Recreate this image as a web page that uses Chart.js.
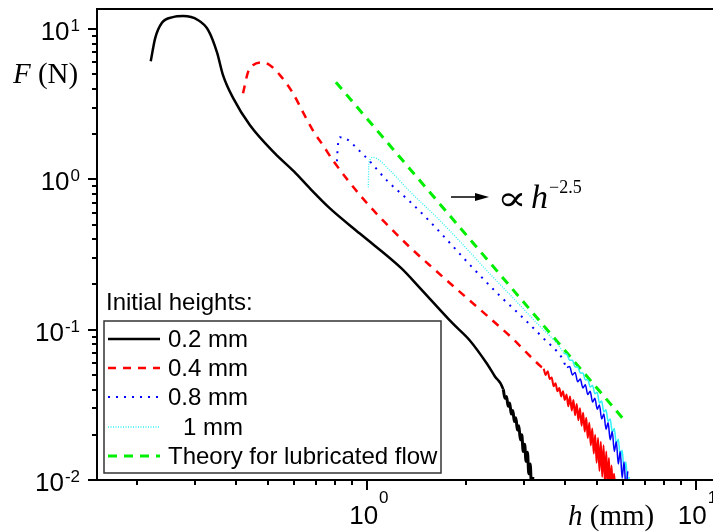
<!DOCTYPE html>
<html>
<head>
<meta charset="utf-8">
<script src="https://cdn.jsdelivr.net/npm/chart.js@4"></script>
<style>
  html, body { margin: 0; padding: 0; background: #fff; }
</style>
</head>
<body>
<canvas id="myChart" width="713" height="532"></canvas>
<script>
// Initial height 0.2 mm (h in mm, F in N); the tail is the noisy band near 10^-2
const h02 = [0.220, 0.227, 0.238, 0.257, 0.276, 0.306, 0.329, 0.350, 0.365, 0.392, 0.441, 0.525, 0.600, 0.671, 0.772, 0.952, 1.277, 1.449, 1.825, 2.06, 2.32, 2.45,
  2.60, 2.63, 2.66, 2.69, 2.72, 2.75, 2.78, 2.81, 2.84, 2.87, 2.90, 2.93, 2.96, 2.99, 3.02, 3.05, 3.08, 3.11, 3.14, 3.17, 3.20];
const f02 = [6.1, 8.7, 11.0, 12.0, 12.2, 11.5, 9.85, 7.0, 4.94, 3.47, 2.29, 1.49, 1.13, 0.871, 0.641, 0.436, 0.255, 0.19, 0.11, 0.0845, 0.0593, 0.049,
  0.040, 0.035, 0.036, 0.031, 0.0325, 0.0275, 0.029, 0.0245, 0.026, 0.0215, 0.023, 0.0185, 0.020, 0.0155, 0.0173, 0.0133, 0.0153, 0.011, 0.0128, 0.0088, 0.0105];

// Initial height 0.4 mm
const h04 = [0.420, 0.435, 0.450, 0.483, 0.507, 0.544, 0.596, 0.639, 0.685, 0.735, 0.788, 0.972, 1.135, 1.370, 1.609, 1.877, 2.316, 2.779, 3.129, 3.38,
  3.45, 3.50, 3.55, 3.60, 3.65, 3.70, 3.75, 3.80, 3.85, 3.90, 3.95, 4.00, 4.05, 4.10, 4.15, 4.20, 4.25, 4.30, 4.35, 4.40, 4.45, 4.50, 4.55, 4.60, 4.65, 4.70, 4.75, 4.80, 4.85, 4.90, 4.95, 5.00, 5.05, 5.10, 5.15, 5.20, 5.25, 5.30, 5.35, 5.40, 5.45, 5.50, 5.55, 5.60, 5.65, 5.70];
const f04 = [3.74, 5.17, 5.75, 6.0, 5.75, 4.94, 3.74, 2.8, 2.12, 1.69, 1.34, 0.747, 0.517, 0.344, 0.2505, 0.186, 0.1245, 0.0871, 0.0671, 0.057,
  0.055, 0.050, 0.053, 0.047, 0.048, 0.042, 0.044, 0.039, 0.041, 0.036, 0.039, 0.034, 0.037, 0.031, 0.036, 0.029, 0.034, 0.027, 0.032, 0.025, 0.030, 0.023, 0.028, 0.021, 0.026, 0.019, 0.024, 0.017, 0.022, 0.015, 0.020, 0.013, 0.019, 0.0115, 0.018, 0.0105, 0.017, 0.0095, 0.0155, 0.0090, 0.014, 0.0085, 0.0125, 0.0088, 0.0110, 0.0085];

// Initial height 0.8 mm
const h08 = [0.811, 0.815, 0.828, 0.869, 0.920, 0.972, 1.014, 1.158, 1.351, 1.554, 1.750, 2.055, 2.535, 2.917, 3.430, 3.940,
  4.06, 4.14, 4.22, 4.30, 4.38, 4.46, 4.54, 4.62, 4.70, 4.78, 4.86, 4.94, 5.02, 5.10, 5.18, 5.26, 5.34, 5.42, 5.50, 5.58, 5.66, 5.74, 5.82, 5.90, 5.98, 6.06, 6.14, 6.22];
const f08 = [1.32, 1.61, 1.905, 1.85, 1.66, 1.47, 1.34, 0.970, 0.713, 0.525, 0.398, 0.271, 0.1685, 0.126, 0.0885, 0.064,
  0.056, 0.057, 0.050, 0.052, 0.045, 0.047, 0.041, 0.043, 0.037, 0.039, 0.033, 0.035, 0.0296, 0.0315, 0.0255, 0.0275, 0.0218, 0.024, 0.0185, 0.021, 0.0155, 0.018, 0.0128, 0.0155, 0.0103, 0.0132, 0.0088, 0.0114];

// Initial height 1 mm
const h1 = [1.010, 1.014, 1.043, 1.175, 1.323, 1.667, 1.958, 2.316, 2.779, 3.280, 3.858,
  3.98, 4.06, 4.14, 4.22, 4.30, 4.38, 4.46, 4.54, 4.62, 4.70, 4.78, 4.86, 4.94, 5.02, 5.10, 5.18, 5.26, 5.34, 5.42, 5.50, 5.58, 5.66, 5.74, 5.82, 5.90, 5.98, 6.06, 6.14, 6.22, 6.28];
const f1 = [0.885, 1.28, 1.40, 1.148, 0.871, 0.533, 0.3687, 0.2474, 0.1634, 0.1113, 0.077,
  0.0695, 0.0685, 0.0625, 0.0625, 0.0565, 0.0565, 0.0515, 0.0515, 0.0465, 0.0465, 0.0415, 0.0425, 0.0375, 0.0383, 0.0325, 0.0335, 0.0283, 0.0293, 0.0245, 0.0255, 0.0207, 0.022, 0.0173, 0.0187, 0.0143, 0.0158, 0.0115, 0.0132, 0.009, 0.0105];

// Theory for lubricated flow (end points of the h^-2.5 line)
const hTheory = [0.805, 6.17];
const fTheory = [4.43, 0.024];

const seriesLabels = ["0.2 mm", "0.4 mm", "0.8 mm", "1 mm", "Theory for lubricated flow"];
const legendTitle = "Initial heights:";

// axis ticks (labels are 10^exp)
const xMajor = [1, 10];
const xMajorExp = ["0", "1"];
const yMajor = [0.01, 0.1, 1, 10];
const yMajorExp = ["-2", "-1", "0", "1"];

const SANS = '"Liberation Sans", Arial, sans-serif';
const SERIF = '"Liberation Serif", "Times New Roman", "DejaVu Serif", serif';

const pairs = (hs, fs) => hs.map((h, i) => ({ x: h, y: fs[i] }));

// noisy tails are drawn solid
const tailStyle = (fromH, width) => ({
  borderDash: (c) => (c.p0.parsed.x >= fromH ? [] : undefined),
  borderWidth: (c) => (c.p0.parsed.x >= fromH ? width : undefined),
});

// draw "10" with a raised exponent
function drawPower(ctx, x, baseY, expY, exp, align) {
  ctx.font = "26px " + SANS;
  const wb = ctx.measureText("10").width;
  ctx.font = "17px " + SANS;
  const we = ctx.measureText(exp).width;
  const x0 = align === "right" ? x - wb - we - 1 : x - (wb + we + 1) / 2;
  ctx.textAlign = "left";
  ctx.textBaseline = "alphabetic";
  ctx.font = "26px " + SANS;
  ctx.fillText("10", x0, baseY);
  ctx.font = "17px " + SANS;
  ctx.fillText(exp, x0 + wb + 1, expY);
}

function logTicks(lo, hi) {
  const out = [];
  for (let d = -3; d <= 2; d++) {
    for (let m = 1; m <= 9; m++) {
      const v = m * Math.pow(10, d);
      if (v >= lo * 0.999 && v <= hi) out.push({ v: v, major: m === 1 });
    }
  }
  return out;
}

// fit a glyph into a box (used for the proportional sign)
function fillGlyphInBox(ctx, ch, font, x0, y0, x1, y1) {
  ctx.font = font;
  const m = ctx.measureText(ch);
  const gw = m.actualBoundingBoxLeft + m.actualBoundingBoxRight;
  const gh = m.actualBoundingBoxAscent + m.actualBoundingBoxDescent;
  ctx.save();
  ctx.translate(x0, y0);
  ctx.scale((x1 - x0) / gw, (y1 - y0) / gh);
  ctx.textAlign = "left";
  ctx.textBaseline = "alphabetic";
  ctx.fillText(ch, m.actualBoundingBoxLeft, m.actualBoundingBoxAscent);
  ctx.restore();
}

const decor = {
  id: "decor",
  afterDraw(chart) {
    const ctx = chart.ctx;
    const { left, right, top, bottom } = chart.chartArea;
    const xs = chart.scales.x;
    const ys = chart.scales.y;
    ctx.save();
    ctx.fillStyle = "#000";
    ctx.strokeStyle = "#000";

    // frame
    ctx.lineWidth = 2;
    ctx.setLineDash([]);
    ctx.beginPath();
    ctx.moveTo(left, top);
    ctx.lineTo(right, top);
    ctx.moveTo(left, top - 1);
    ctx.lineTo(left, bottom + 1);
    ctx.moveTo(left, bottom);
    ctx.lineTo(right, bottom);
    ctx.stroke();

    // ticks
    ctx.beginPath();
    logTicks(ys.min, ys.max).forEach((t) => {
      const py = Math.round(ys.getPixelForValue(t.v));
      ctx.moveTo(left - (t.major ? 9 : 5), py);
      ctx.lineTo(left, py);
    });
    logTicks(xs.min, xs.max).forEach((t) => {
      const px = Math.round(xs.getPixelForValue(t.v));
      if (px < left + 2) return;
      ctx.moveTo(px, bottom);
      ctx.lineTo(px, bottom + (t.major ? 10 : 5));
    });
    ctx.stroke();

    // tick labels
    yMajor.forEach((v, i) => {
      const py = ys.getPixelForValue(v);
      drawPower(ctx, 80, py + 11, py + 2, yMajorExp[i], "right");
    });
    xMajor.forEach((v, i) => {
      const px = xs.getPixelForValue(v);
      drawPower(ctx, px + 2, 524, 503, xMajorExp[i], "center");
    });

    // axis titles
    ctx.textAlign = "left";
    ctx.font = "italic 29px " + SERIF;
    ctx.fillText("F", 13, 83);
    let w = ctx.measureText("F").width;
    ctx.font = "29px " + SERIF;
    ctx.fillText(" (N)", 13 + w, 83);

    ctx.font = "italic 29px " + SERIF;
    ctx.fillText("h", 568, 525);
    w = ctx.measureText("h").width;
    ctx.font = "29px " + SERIF;
    ctx.fillText(" (mm)", 568 + w, 525);

    // slope annotation
    ctx.lineWidth = 1.5;
    ctx.beginPath();
    ctx.moveTo(451, 197);
    ctx.lineTo(477, 197);
    ctx.stroke();
    ctx.beginPath();
    ctx.moveTo(489, 197);
    ctx.lineTo(475, 193);
    ctx.lineTo(475, 201);
    ctx.closePath();
    ctx.fill();
    fillGlyphInBox(ctx, "\u221D", "32px " + SERIF, 501, 193, 523, 207);
    ctx.font = "italic 34px " + SERIF;
    ctx.fillText("h", 531, 208);
    ctx.font = "18px " + SERIF;
    ctx.fillText("\u22122.5", 549, 193);

    // legend
    ctx.font = "24px " + SANS;
    ctx.fillText(legendTitle, 106, 310);
    ctx.lineWidth = 1.5;
    ctx.strokeStyle = "#333";
    ctx.strokeRect(104, 321, 337, 152);
    const rowY = [339, 368, 397, 427, 456];
    const indent = [0, 0, 0, 15, 0];
    chart.data.datasets.forEach((ds, i) => {
      const y = rowY[i];
      ctx.save();
      ctx.strokeStyle = ds.borderColor;
      ctx.lineWidth = ds.borderWidth;
      ctx.setLineDash(ds.borderDash || []);
      ctx.beginPath();
      ctx.moveTo(108, y);
      ctx.lineTo(160, y);
      ctx.stroke();
      ctx.restore();
      ctx.fillStyle = "#000";
      ctx.font = "24px " + SANS;
      ctx.fillText(ds.label, 168 + indent[i], y + 8);
    });
    ctx.restore();
  },
};

const ctx = document.getElementById("myChart").getContext("2d");

const myChart = new Chart(ctx, {
  type: "scatter",
  data: {
    datasets: [
      {
        label: seriesLabels[0],
        data: pairs(h02, f02),
        borderColor: "#000000",
        borderWidth: 2.5,
        borderDash: [],
        cubicInterpolationMode: "monotone",
        segment: tailStyle(2.6, 3),
      },
      {
        label: seriesLabels[1],
        data: pairs(h04, f04),
        borderColor: "#ff0000",
        borderWidth: 2.5,
        borderDash: [8, 7],
        cubicInterpolationMode: "monotone",
        segment: tailStyle(3.45, 2),
      },
      {
        label: seriesLabels[2],
        data: pairs(h08, f08),
        borderColor: "#0000ff",
        borderWidth: 2,
        borderDash: [2, 6],
        cubicInterpolationMode: "monotone",
        segment: tailStyle(4.06, 1.5),
      },
      {
        label: seriesLabels[3],
        data: pairs(h1, f1),
        borderColor: "#2ef0f5",
        borderWidth: 1.3,
        borderDash: [1, 1.5],
        cubicInterpolationMode: "monotone",
        segment: tailStyle(3.98, 1.5),
      },
      {
        label: seriesLabels[4],
        data: pairs(hTheory, fTheory),
        borderColor: "#00ee00",
        borderWidth: 3,
        borderDash: [9, 7],
      },
    ],
  },
  options: {
    responsive: false,
    animation: false,
    events: [],
    showLine: true,
    elements: { point: { radius: 0 } },
    layout: { padding: { left: 97, top: 9, right: 0, bottom: 52 } },
    scales: {
      x: { type: "logarithmic", min: 0.151, max: 11.3, display: false },
      y: { type: "logarithmic", min: 0.01, max: 13.6, display: false },
    },
    plugins: { legend: { display: false }, tooltip: { enabled: false } },
  },
  plugins: [decor],
});
</script>
</body>
</html>
